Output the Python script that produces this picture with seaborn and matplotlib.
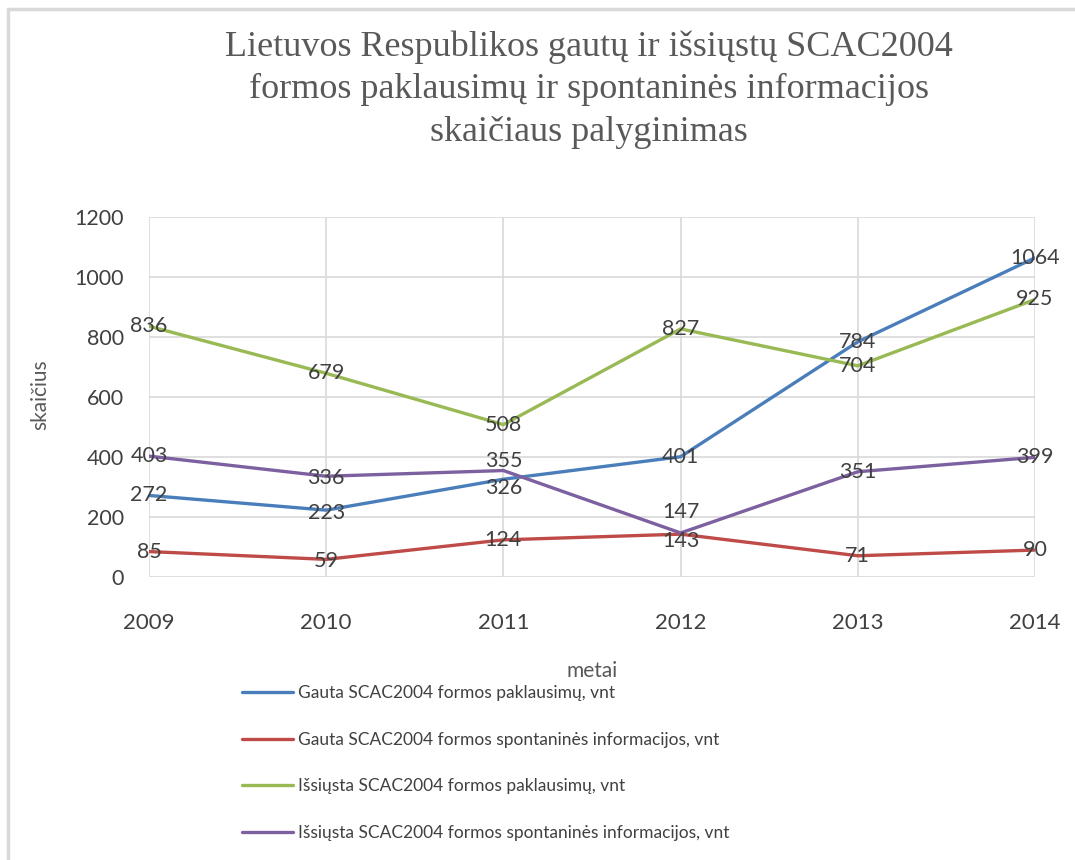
import matplotlib
matplotlib.use("Agg")
import matplotlib.pyplot as plt
import seaborn as sns
import pandas as pd
from matplotlib.lines import Line2D

years = [2009, 2010, 2011, 2012, 2013, 2014]
series_names = [
    "Gauta SCAC2004 formos paklausimų, vnt",
    "Gauta SCAC2004 formos spontaninės informacijos, vnt",
    "Išsiųsta SCAC2004 formos paklausimų, vnt",
    "Išsiųsta SCAC2004 formos spontaninės informacijos, vnt",
]
gauta_paklausimu = [272, 223, 326, 401, 784, 1064]
gauta_spontanines = [85, 59, 124, 143, 71, 90]
issiusta_paklausimu = [836, 679, 508, 827, 704, 925]
issiusta_spontanines = [403, 336, 355, 147, 351, 399]
values = [gauta_paklausimu, gauta_spontanines, issiusta_paklausimu, issiusta_spontanines]

title = "Lietuvos Respublikos gautų ir išsiųstų SCAC2004\nformos paklausimų ir spontaninės informacijos\nskaičiaus palyginimas"
y_ticks = [0, 200, 400, 600, 800, 1000, 1200]

colors = ["#4a7ebb", "#be4b48", "#98b954", "#7d60a0"]
# label vertical offsets (points) to mimic placement
label_offsets = {
    (0, 2011): -6, (3, 2011): 7, (3, 2012): 15, (1, 2012): -5,
    (0, 2010): -2, (3, 2010): -1, (1, 2010): -1,
}

df = pd.DataFrame([
    {"year": y, "value": v, "series": name}
    for name, vals in zip(series_names, values)
    for y, v in zip(years, vals)
])

sns.set_theme(style="white")
plt.rcParams["font.family"] = ["Lato", "DejaVu Sans"]

fig = plt.figure(figsize=(10.75, 8.6), dpi=100)
bx, by = 7.5 / 1075, 1 - 8.5 / 860
fig.lines.append(Line2D([bx, bx], [0, by], transform=fig.transFigure,
                        color="#d9d9d9", linewidth=2.5))
fig.lines.append(Line2D([bx, 1], [by, by], transform=fig.transFigure,
                        color="#d9d9d9", linewidth=2.5))
ax = fig.add_axes([0.1386, 0.329, 0.8242, 0.4187])

sns.lineplot(data=df, x="year", y="value", hue="series", palette=colors,
             linewidth=2.4, ax=ax, legend=False)

txt = "#404040"
for si, (name, vals) in enumerate(zip(series_names, values)):
    for y, v in zip(years, vals):
        dy = label_offsets.get((si, y), 0)
        ax.annotate(str(v), (y, v), xytext=(0, dy), textcoords="offset points",
                    ha="center", va="center", fontsize=15.5, color=txt)

ax.set_xlim(2009, 2014)
ax.set_ylim(0, 1200)
ax.set_xticks(years)
ax.set_yticks(y_ticks)
ax.grid(True, color="#d9d9d9", linewidth=1.2)
for s in ax.spines.values():
    s.set_visible(False)
ax.tick_params(axis="x", length=0, labelsize=16, labelcolor=txt, pad=26)
ax.tick_params(axis="y", length=0, labelsize=15.5, labelcolor=txt, pad=18)
ax.set_xlabel("metai", fontsize=15, color="#595959", labelpad=20)
ax.set_ylabel("")
fig.text(40 / 1075, 1 - 395 / 860, "skaičius", rotation=90, ha="center", va="center",
         fontsize=15, color="#595959")

fig.text(0.548, 0.965, title, ha="center", va="top", fontsize=26,
         family=["Liberation Serif", "DejaVu Serif"], color="#595959", linespacing=1.38)

handles = [plt.Line2D([], [], color=c, linewidth=2.4) for c in colors]
leg = fig.legend(handles, series_names, loc="upper left", bbox_to_anchor=(0.219, 0.211),
                 frameon=False, fontsize=12.5, handlelength=2.9, handletextpad=0.3,
                 labelspacing=1.75, borderaxespad=0)
for t in leg.get_texts():
    t.set_color(txt)

fig.savefig("out.png", dpi=100)
